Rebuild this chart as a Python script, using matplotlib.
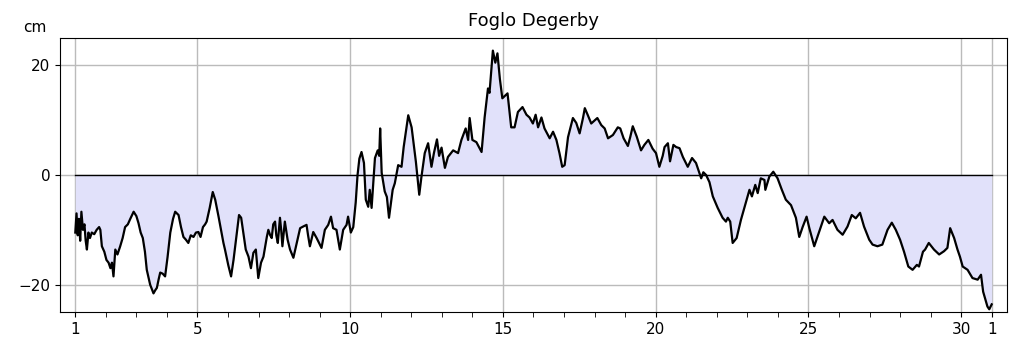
import numpy as np
import matplotlib
matplotlib.use("Agg")
import matplotlib.pyplot as plt

# Sea level, Foglo Degerby
days = [1.00, 1.04, 1.08, 1.12, 1.16, 1.20, 1.25, 1.30, 1.34, 1.38, 1.43, 1.48,
        1.54, 1.62, 1.70, 1.78, 1.82, 1.87, 1.95, 2.02, 2.09, 2.15, 2.20, 2.25,
        2.31, 2.38, 2.47, 2.55, 2.63, 2.72, 2.80, 2.91, 3.00, 3.07, 3.14, 3.21,
        3.28, 3.34, 3.45, 3.56, 3.62, 3.67, 3.73, 3.78, 3.86, 3.94, 4.02, 4.11,
        4.20, 4.27, 4.38, 4.46, 4.54, 4.62, 4.70, 4.78, 4.87, 4.95, 5.03, 5.10,
        5.18, 5.25, 5.30, 5.40, 5.50, 5.58, 5.69, 5.77, 5.85, 5.90, 6.01, 6.10,
        6.18, 6.29, 6.36, 6.43, 6.50, 6.58, 6.67, 6.75, 6.83, 6.91, 6.99, 7.08,
        7.16, 7.27, 7.32, 7.38, 7.43, 7.48, 7.54, 7.58, 7.63, 7.70, 7.74, 7.78,
        7.86, 7.95, 8.03, 8.14, 8.25, 8.36, 8.46, 8.57, 8.62, 8.68, 8.79, 8.90,
        9.06, 9.17, 9.28, 9.37, 9.44, 9.55, 9.66, 9.77, 9.88, 9.93, 10.02, 10.10,
        10.18, 10.24, 10.30, 10.37, 10.45, 10.51, 10.59, 10.64, 10.70, 10.81, 10.90, 10.95,
        10.98, 11.03, 11.13, 11.20, 11.27, 11.39, 11.46, 11.57, 11.68, 11.75, 11.90, 12.01,
        12.15, 12.26, 12.33, 12.44, 12.55, 12.66, 12.74, 12.84, 12.91, 12.99, 13.10, 13.20,
        13.37, 13.53, 13.64, 13.78, 13.86, 13.91, 14.00, 14.13, 14.30, 14.40, 14.51, 14.56,
        14.67, 14.75, 14.82, 14.90, 14.98, 15.15, 15.27, 15.38, 15.49, 15.64, 15.77, 15.87,
        15.98, 16.07, 16.15, 16.26, 16.36, 16.53, 16.64, 16.75, 16.85, 16.94, 17.02, 17.13,
        17.29, 17.40, 17.51, 17.62, 17.68, 17.78, 17.89, 18.09, 18.22, 18.33, 18.44, 18.60,
        18.76, 18.84, 18.95, 19.09, 19.17, 19.25, 19.38, 19.52, 19.63, 19.76, 19.90, 20.01,
        20.12, 20.23, 20.29, 20.40, 20.47, 20.58, 20.67, 20.78, 20.89, 21.05, 21.19, 21.32,
        21.49, 21.56, 21.65, 21.76, 21.87, 22.03, 22.19, 22.30, 22.36, 22.44, 22.52, 22.65,
        22.79, 22.96, 23.07, 23.15, 23.26, 23.34, 23.44, 23.56, 23.59, 23.72, 23.85, 23.99,
        24.13, 24.26, 24.43, 24.59, 24.70, 24.81, 24.94, 25.03, 25.19, 25.35, 25.52, 25.68,
        25.79, 25.95, 26.12, 26.28, 26.42, 26.55, 26.69, 26.82, 26.99, 27.10, 27.26, 27.42,
        27.59, 27.73, 27.86, 28.00, 28.13, 28.27, 28.41, 28.55, 28.62, 28.75, 28.82, 28.94,
        29.11, 29.28, 29.44, 29.55, 29.64, 29.77, 29.88, 29.96, 30.05, 30.21, 30.37, 30.54,
        30.65, 30.72, 30.86, 30.92, 31.00]

level_cm = [-10.5, -7.0, -11.0, -8.0, -12.0, -6.7, -10.0, -9.0, -12.0, -13.6, -10.5, -11.5,
            -10.5, -10.8, -10.0, -9.5, -10.0, -13.0, -14.0, -15.5, -16.0, -17.0, -16.0, -18.5,
            -13.6, -14.5, -13.0, -11.5, -9.5, -9.0, -8.0, -6.7, -7.5, -8.8, -10.5, -11.5,
            -14.0, -17.3, -20.0, -21.6, -21.0, -20.6, -19.0, -17.8, -18.0, -18.5, -15.0, -10.5,
            -8.0, -6.7, -7.3, -9.5, -11.3, -11.8, -12.4, -11.0, -11.3, -10.5, -10.4, -11.3,
            -9.5, -9.0, -8.5, -6.0, -3.1, -4.5, -7.6, -10.0, -12.4, -13.6, -16.5, -18.5,
            -15.5, -10.5, -7.3, -7.8, -10.5, -13.6, -14.9, -17.0, -14.2, -13.6, -18.8, -16.0,
            -14.9, -11.3, -10.0, -11.0, -11.5, -9.0, -8.5, -11.0, -12.4, -7.8, -10.0, -13.0,
            -8.5, -11.8, -13.6, -15.1, -12.4, -9.7, -9.4, -9.1, -11.0, -13.0, -10.4, -11.5,
            -13.3, -10.0, -9.1, -7.6, -9.7, -10.0, -13.6, -10.0, -9.1, -7.6, -10.5, -9.5,
            -5.0, 0.0, 3.0, 4.2, 2.2, -4.5, -5.8, -2.7, -6.0, 3.1, 4.5, 3.5,
            8.5, 0.4, -3.0, -4.0, -7.8, -2.7, -1.5, 1.8, 1.5, 5.1, 10.9, 8.7,
            2.4, -3.6, -0.4, 4.0, 5.8, 1.5, 4.0, 6.5, 3.5, 5.0, 1.3, 3.3,
            4.5, 4.0, 6.4, 8.5, 6.4, 10.4, 6.4, 6.0, 4.2, 10.5, 15.8, 15.0,
            22.7, 20.5, 22.2, 17.5, 14.0, 14.9, 8.7, 8.7, 11.5, 12.4, 11.0, 10.5,
            9.4, 11.0, 8.7, 10.5, 8.5, 6.7, 7.9, 6.4, 4.0, 1.5, 1.8, 6.9,
            10.4, 9.5, 7.6, 10.4, 12.2, 10.9, 9.4, 10.4, 9.1, 8.5, 6.7, 7.3,
            8.7, 8.5, 6.7, 5.3, 7.0, 8.9, 7.0, 4.5, 5.5, 6.4, 4.8, 4.0,
            1.5, 3.5, 5.1, 5.8, 2.5, 5.5, 5.1, 4.9, 3.3, 1.5, 3.1, 2.2,
            -0.6, 0.5, 0.0, -1.3, -3.9, -6.0, -7.8, -8.5, -7.8, -8.5, -12.4, -11.5,
            -8.2, -4.9, -2.7, -3.9, -1.8, -3.3, -0.6, -0.9, -2.7, -0.3, 0.6, -0.6,
            -2.7, -4.5, -5.5, -7.8, -11.3, -9.5, -7.6, -9.7, -13.0, -10.4, -7.6, -8.8,
            -8.2, -10.0, -10.9, -9.4, -7.3, -7.9, -6.9, -9.4, -11.8, -12.7, -13.0, -12.7,
            -10.0, -8.7, -10.0, -11.8, -14.0, -16.7, -17.3, -16.4, -16.7, -14.0, -13.6, -12.4,
            -13.6, -14.5, -13.9, -13.3, -9.7, -11.5, -13.6, -14.9, -16.7, -17.3, -18.8, -19.1,
            -18.2, -21.3, -24.0, -24.5, -23.6]

label_days = [1, 5, 10, 15, 20, 25, 30, 31]
label_text = ["1", "5", "10", "15", "20", "25", "30", "1"]
y_ticks = [-20, 0, 20]

fig = plt.figure(figsize=(10.19, 3.52), dpi=100)
ax = fig.add_axes([0.0589, 0.1136, 0.9293, 0.7784])

x = np.array(days)
y = np.array(level_cm)

ax.fill_between(x, y, 0, color="#e1e1fa", linewidth=0, zorder=1)
ax.plot([1, 31], [0, 0], color="black", lw=1.0, zorder=2)
ax.plot(x, y, color="black", lw=1.6, zorder=3)

ax.set_xlim(0.5, 31.5)
ax.set_ylim(-25, 25)
ax.set_xticks(label_days)
ax.set_xticklabels(label_text)
ax.set_xticks(np.arange(1, 32), minor=True)
ax.tick_params(axis="x", which="minor", length=3.5)
ax.tick_params(axis="both", which="major", length=3.5, labelsize=11)
ax.set_yticks(y_ticks)
ax.set_yticklabels(["\u221220", "0", "20"])
ax.grid(True, which="major", color="#bbbbbb", lw=1.0, zorder=0)
ax.set_axisbelow(True)

ax.set_title("Foglo Degerby", fontsize=13, pad=9)
fig.text(0.034, 0.923, "cm", fontsize=11, ha="center", va="center")

fig.savefig("out.png", dpi=100)
